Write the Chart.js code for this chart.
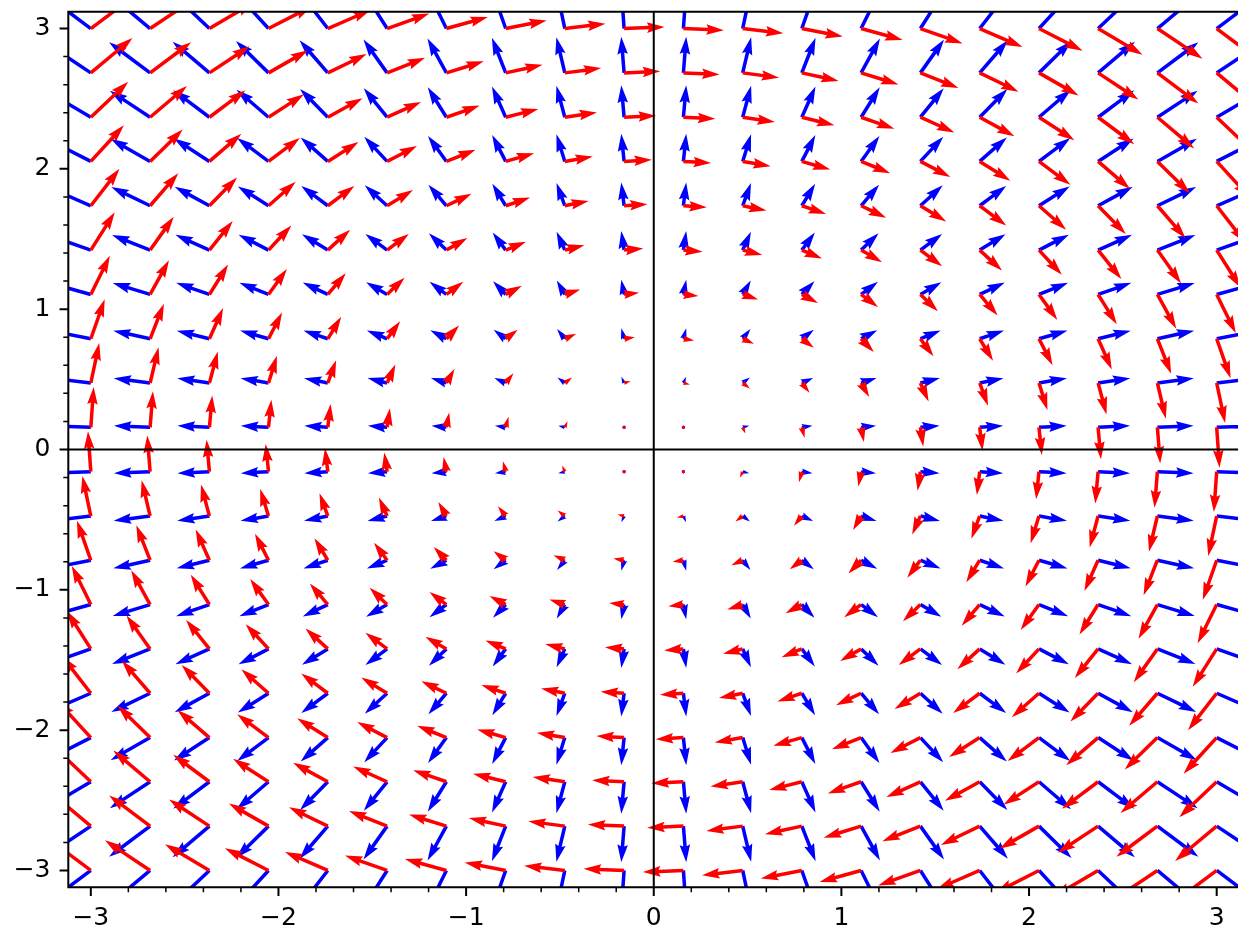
<!DOCTYPE html>
<html>
<head>
<meta charset="utf-8">
<script src="https://cdn.jsdelivr.net/npm/chart.js@4.4.1/dist/chart.umd.min.js"></script>
<style>
html,body{margin:0;padding:0;overflow:hidden;background:#ffffff;}
#wrap{width:1242px;height:932px;}
canvas{display:block;}
</style>
</head>
<body>
<div id="wrap"><canvas id="c" width="1242" height="932" style="width:1242px;height:932px"></canvas></div>
<script>
// Grid of arrow tails (20 x 20)
const gridX = [-3.000, -2.684, -2.368, -2.053, -1.737, -1.421, -1.105, -0.789, -0.474, -0.158,
                0.158,  0.474,  0.789,  1.105,  1.421,  1.737,  2.053,  2.368,  2.684,  3.000];
const gridY = [-3.000, -2.684, -2.368, -2.053, -1.737, -1.421, -1.105, -0.789, -0.474, -0.158,
                0.158,  0.474,  0.789,  1.105,  1.421,  1.737,  2.053,  2.368,  2.684,  3.000];

// Blue field: horizontal component per column, vertical component per row
const blueU = [-3.000, -2.684, -2.368, -2.053, -1.737, -1.421, -1.105, -0.789, -0.474, -0.158,
                0.158,  0.474,  0.789,  1.105,  1.421,  1.737,  2.053,  2.368,  2.684,  3.000];
const blueV = [-3.000, -2.684, -2.368, -2.053, -1.737, -1.421, -1.105, -0.789, -0.474, -0.158,
                0.158,  0.474,  0.789,  1.105,  1.421,  1.737,  2.053,  2.368,  2.684,  3.000];

// Red field: horizontal component per row, vertical component per column
const redU = [-3.000, -2.684, -2.368, -2.053, -1.737, -1.421, -1.105, -0.789, -0.474, -0.158,
               0.158,  0.474,  0.789,  1.105,  1.421,  1.737,  2.053,  2.368,  2.684,  3.000];
const redV = [ 3.000,  2.684,  2.368,  2.053,  1.737,  1.421,  1.105,  0.789,  0.474,  0.158,
              -0.158, -0.474, -0.789, -1.105, -1.421, -1.737, -2.053, -2.368, -2.684, -3.000];

const majorTicks = [-3, -2, -1, 0, 1, 2, 3];
const minorTicks = [-3.0,-2.8,-2.6,-2.4,-2.2,-2.0,-1.8,-1.6,-1.4,-1.2,-1.0,-0.8,-0.6,-0.4,-0.2,
                    0.2,0.4,0.6,0.8,1.0,1.2,1.4,1.6,1.8,2.0,2.2,2.4,2.6,2.8,3.0];
const xLimits = [-3.12, 3.12];
const yLimits = [-3.12, 3.12];

function buildBlue(){
  const out = [];
  for (let i = 0; i < gridX.length; i++)
    for (let j = 0; j < gridY.length; j++)
      out.push({x: gridX[i], y: gridY[j], u: blueU[i], v: blueV[j]});
  return out;
}
function buildRed(){
  const out = [];
  for (let i = 0; i < gridX.length; i++)
    for (let j = 0; j < gridY.length; j++)
      out.push({x: gridX[i], y: gridY[j], u: redU[j], v: redV[i]});
  return out;
}

// matplotlib-like quiver arrows (pivot tail, angles xy, autoscale)
const quiverPlugin = {
  id: 'quiver',
  afterDatasetsDraw(chart){
    const ctx = chart.ctx, a = chart.chartArea;
    const xs = chart.scales.x, ys = chart.scales.y;
    const span = a.right - a.left;
    ctx.save();
    ctx.beginPath();
    ctx.rect(a.left, a.top, a.right - a.left, a.bottom - a.top);
    ctx.clip();
    chart.data.datasets.forEach(ds => {
      const pts = ds.data;
      const N = pts.length;
      const mags = pts.map(p => Math.hypot(p.u, p.v));
      const amean = mags.reduce((s, m) => s + m, 0) / N;
      const sn = Math.max(10, Math.sqrt(N));
      const scale = 1.8 * amean * sn;
      const snW = Math.min(25, Math.max(8, Math.sqrt(N)));
      const w = 0.06 * span / snW;
      const hl = 5, hw = 3, hal = 4.5, minsh = 5;
      ctx.fillStyle = ds.backgroundColor;
      pts.forEach((p, k) => {
        const px = xs.getPixelForValue(p.x), py = ys.getPixelForValue(p.y);
        const dx = xs.getPixelForValue(p.x + p.u) - px;
        const dy = ys.getPixelForValue(p.y + p.v) - py;
        const th = Math.atan2(dy, dx);
        const L = (mags[k] * span / scale) / w;
        let X, Y;
        if (L < 1) {
          X = []; Y = [];
          for (let t = 0; t < 8; t++) { X.push(Math.cos(t*Math.PI/3)*0.5); Y.push(Math.sin(t*Math.PI/3)*0.5); }
        } else if (L < minsh) {
          const s = L / minsh;
          const x0 = [0, minsh - hal, minsh - hl, minsh], y0 = [0.5, 0.5, hw/2, 0];
          X = [x0[0],x0[1],x0[2],x0[3],x0[2],x0[1],x0[0],x0[0]].map(v => v*s);
          Y = [y0[0],y0[1],y0[2],-y0[3],-y0[2],-y0[1],-y0[0],y0[0]].map(v => v*s);
        } else {
          const x1 = [0, L - hal, L - hl, L], y1 = [0.5, 0.5, hw/2, 0];
          X = [x1[0],x1[1],x1[2],x1[3],x1[2],x1[1],x1[0],x1[0]];
          Y = [y1[0],y1[1],y1[2],-y1[3],-y1[2],-y1[1],-y1[0],y1[0]];
        }
        const c = Math.cos(th), sN = Math.sin(th);
        ctx.beginPath();
        for (let q = 0; q < X.length; q++) {
          const xx = X[q]*w, yy = Y[q]*w;
          const qx = px + xx*c - yy*sN, qy = py + xx*sN + yy*c;
          if (q === 0) ctx.moveTo(qx, qy); else ctx.lineTo(qx, qy);
        }
        ctx.closePath();
        ctx.fill();
      });
    });
    ctx.restore();
  },
  afterDraw(chart){
    const ctx = chart.ctx, a = chart.chartArea;
    const xs = chart.scales.x, ys = chart.scales.y;
    ctx.save();
    ctx.strokeStyle = '#000000';
    // zero axes
    ctx.lineWidth = 2;
    ctx.beginPath();
    const x0 = xs.getPixelForValue(0), y0 = ys.getPixelForValue(0);
    ctx.moveTo(x0, a.top); ctx.lineTo(x0, a.bottom);
    ctx.moveTo(a.left, y0); ctx.lineTo(a.right, y0);
    ctx.stroke();
    // frame
    ctx.beginPath();
    ctx.rect(a.left, a.top, a.right - a.left, a.bottom - a.top);
    ctx.stroke();
    // major ticks
    ctx.lineWidth = 2;
    ctx.beginPath();
    majorTicks.forEach(t => {
      const px = xs.getPixelForValue(t);
      ctx.moveTo(px, a.bottom); ctx.lineTo(px, a.bottom + 8.75);
      const py = ys.getPixelForValue(t);
      ctx.moveTo(a.left, py); ctx.lineTo(a.left - 8.75, py);
    });
    ctx.stroke();
    // minor ticks
    ctx.lineWidth = 1.5;
    ctx.beginPath();
    minorTicks.forEach(t => {
      if (Math.abs(t - Math.round(t)) < 1e-9) return;
      const px = xs.getPixelForValue(t);
      ctx.moveTo(px, a.bottom); ctx.lineTo(px, a.bottom + 5);
      const py = ys.getPixelForValue(t);
      ctx.moveTo(a.left, py); ctx.lineTo(a.left - 5, py);
    });
    ctx.stroke();
    ctx.restore();
  }
};

const fmt = v => (v < 0 ? '\u2212' + Math.abs(v) : String(v));

new Chart(document.getElementById('c'), {
  type: 'scatter',
  data: {
    datasets: [
      {label: 'blue field', data: buildBlue(), backgroundColor: '#0000ff', borderColor: '#0000ff', pointRadius: 0, pointHoverRadius: 0},
      {label: 'red field', data: buildRed(), backgroundColor: '#ff0000', borderColor: '#ff0000', pointRadius: 0, pointHoverRadius: 0}
    ]
  },
  options: {
    responsive: false,
    animation: false,
    devicePixelRatio: 1,
    events: [],
    layout: {padding: {top: 11.7, right: 2.8, left: 0, bottom: 0}},
    plugins: {legend: {display: false}, tooltip: {enabled: false}},
    scales: {
      x: {
        type: 'linear', min: xLimits[0], max: xLimits[1],
        grid: {display: false, drawTicks: false}, border: {display: false},
        ticks: {stepSize: 1, includeBounds: false, autoSkip: false, maxRotation: 0,
                color: '#000000', font: {family: 'DejaVu Sans', size: 25}, padding: 15.7,
                callback: v => fmt(v)},
        afterFit: s => { s.height = 44.7; s.paddingLeft = 0; s.paddingRight = 0; s.paddingTop = 0; s.paddingBottom = 0; }
      },
      y: {
        type: 'linear', min: yLimits[0], max: yLimits[1],
        grid: {display: false, drawTicks: false}, border: {display: false},
        ticks: {stepSize: 1, includeBounds: false, autoSkip: false,
                color: '#000000', font: {family: 'DejaVu Sans', size: 25}, padding: 17.8,
                callback: v => fmt(v)},
        afterFit: s => { s.width = 68.3; s.paddingLeft = 0; s.paddingRight = 0; s.paddingTop = 0; s.paddingBottom = 0; }
      }
    }
  },
  plugins: [quiverPlugin]
});
</script>
</body>
</html>
